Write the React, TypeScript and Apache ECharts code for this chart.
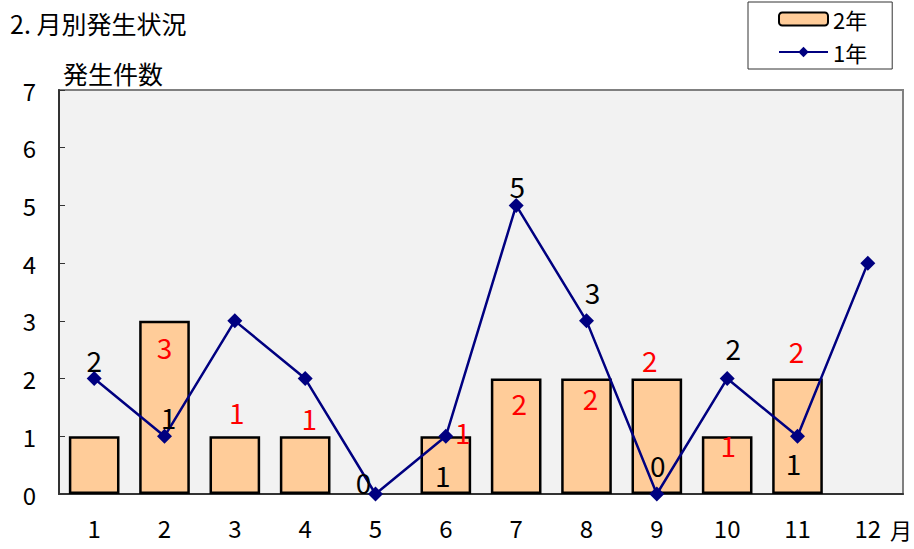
import React, { useEffect, useRef } from "react";
import * as echarts from "echarts";

const months = ["1", "2", "3", "4", "5", "6", "7", "8", "9", "10", "11", "12"];
const year2Values: (number | null)[] = [1, 3, 1, 1, 0, 1, 2, 2, 2, 1, 2, null];
const year1Values: number[] = [2, 1, 3, 2, 0, 1, 5, 3, 0, 2, 1, 4];
const yTicks = { min: 0, max: 7, interval: 1 };

// label placement (pixel offsets), null = no label
const barLabelOffsets: ([number, number] | null)[] = [
  null, [0, 26], [2, -24], [4, -18], null, [17, -4], [3, 24], [4, 19], [-7, -19], [1, 9], [-1, -28], null,
];
const lineLabelOffsets: ([number, number] | null)[] = [
  [0, -19], [4, -19], null, null, [-12, -12], [-3, 39], [1, -19], [6, -29], [1, -29], [6, -31], [-4, 27], null,
];

const FONT = "'Liberation Sans Narrow', 'Arial Narrow', 'Noto Sans CJK JP', sans-serif";
const CJK = "'Noto Sans CJK JP', sans-serif";

export default function App() {
  const ref = useRef<HTMLDivElement>(null);
  useEffect(() => {
    document.body.style.margin = "0";
    if (!ref.current) return;
    const chart = echarts.init(ref.current, undefined, { renderer: "svg" });
    const barData = year2Values.map((v, i) => {
      const off = barLabelOffsets[i];
      return {
        value: v,
        itemStyle: v === 0 ? { borderWidth: 0 } : undefined,
        label: off
          ? { show: true, position: ["50%", 0], align: "center", verticalAlign: "middle", offset: off }
          : { show: false },
      };
    });
    const lineData = year1Values.map((v, i) => {
      const off = lineLabelOffsets[i];
      return {
        value: v,
        label: off
          ? { show: true, position: ["50%", "50%"], align: "center", verticalAlign: "middle", offset: off }
          : { show: false },
      };
    });
    chart.setOption({
      animation: false,
      textStyle: { fontFamily: FONT },
      grid: {
        left: 59, right: 11, top: 90, bottom: 55,
        show: true, backgroundColor: "#f2f2f2", borderColor: "#808080", borderWidth: 2,
      },
      legend: {
        left: 748, top: 2, orient: "vertical",
        padding: [6, 25, 6, 30],
        borderColor: "#333", borderWidth: 1,
        itemWidth: 49, itemHeight: 13, itemGap: 11,
        textStyle: { fontSize: 22, color: "#000", fontFamily: CJK },
        data: ["2年", "1年"],
      },
      xAxis: {
        type: "category", data: months,
        axisLine: { lineStyle: { color: "#333", width: 2 } },
        axisTick: { inside: true, length: 6, lineStyle: { color: "#333" } },
        axisLabel: { fontSize: 24, color: "#000", margin: 21 },
      },
      yAxis: {
        type: "value", min: yTicks.min, max: yTicks.max, interval: yTicks.interval,
        axisLine: { show: true, lineStyle: { color: "#333", width: 2 } },
        axisTick: { show: true, inside: true, length: 6, lineStyle: { color: "#333" } },
        splitLine: { show: false },
        axisLabel: { fontSize: 24, color: "#000", margin: 23 },
      },
      graphic: [
        { type: "text", left: 10, top: 10, style: { text: "2. 月別発生状況", fontSize: 25, fill: "#000", fontFamily: CJK } },
        { type: "text", left: 63, top: 60, style: { text: "発生件数", fontSize: 25, fill: "#000", fontFamily: CJK } },
        { type: "text", left: 890, top: 518, style: { text: "月", fontSize: 22, fill: "#000", fontFamily: CJK } },
      ],
      series: [
        {
          name: "2年", type: "bar", data: barData, barWidth: "72%",
          itemStyle: { color: "#ffcc99", borderColor: "#000", borderWidth: 2.5 },
          label: { color: "#ff0000", fontSize: 28, fontFamily: FONT },
          z: 2,
        },
        {
          name: "1年", type: "line", data: lineData,
          symbol: "diamond", symbolSize: 15,
          lineStyle: { color: "#000080", width: 2.5 },
          itemStyle: { color: "#000080" },
          label: { color: "#000", fontSize: 28, fontFamily: FONT },
          z: 3,
        },
      ],
    });
    return () => chart.dispose();
  }, []);
  return <div ref={ref} style={{ width: 914, height: 549 }} />;
}
